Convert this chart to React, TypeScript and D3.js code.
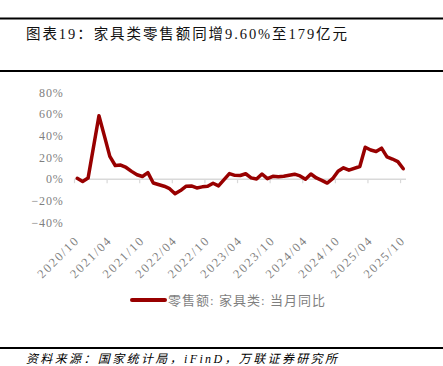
import React from "react";
import * as d3 from "d3";

const categories: string[] = [
  "2020/10","2020/11","2020/12",
  "2021/01","2021/02","2021/03","2021/04","2021/05","2021/06","2021/07","2021/08","2021/09","2021/10","2021/11","2021/12",
  "2022/01","2022/02","2022/03","2022/04","2022/05","2022/06","2022/07","2022/08","2022/09","2022/10","2022/11","2022/12",
  "2023/01","2023/02","2023/03","2023/04","2023/05","2023/06","2023/07","2023/08","2023/09","2023/10","2023/11","2023/12",
  "2024/01","2024/02","2024/03","2024/04","2024/05","2024/06","2024/07","2024/08","2024/09","2024/10","2024/11","2024/12",
  "2025/01","2025/02","2025/03","2025/04","2025/05","2025/06","2025/07","2025/08","2025/09","2025/10",
];

const values: (number | null)[] = [
  0.8, -2.2, 1.0,
  null, 58.5, 40.0, 21.0, 12.6, 13.0, 10.8, 7.2, 4.1, 2.5, 6.0, -3.5,
  null, -6.5, -8.8, -13.5, -10.5, -6.6, -6.2, -8.1, -7.1, -6.6, -3.8, -6.2,
  null, 5.2, 3.5, 3.4, 5.0, 1.2, 0.1, 4.8, 0.5, 2.6, 2.2, 2.7,
  null, 4.6, 3.0, -0.1, 4.8, 1.1, -1.1, -3.6, 0.4, 7.4, 10.5, 8.3,
  null, 11.7, 29.5, 26.9, 25.6, 28.6, 20.6, 18.6, 16.2, 9.6,
];

const xTickLabels: string[] = [
  "2020/10","2021/04","2021/10","2022/04","2022/10","2023/04","2023/10","2024/04","2024/10","2025/04","2025/10",
];
const yTicks: number[] = [80, 60, 40, 20, 0, -20, -40];

const title = "图表19：家具类零售额同增9.60%至179亿元";
const seriesName = "零售额: 家具类: 当月同比";
const source = "资料来源：国家统计局，iFinD，万联证券研究所";

const W = 443;
const H = 366;
const LINE_COLOR = "#980000";
const GRAY = "#7f7f7f";
const SERIF = "'Liberation Serif','Times New Roman','Noto Sans CJK SC',serif";

export default function App() {
  const x = d3.scaleBand<string>().domain(categories).range([74.5, 406]).paddingInner(0).paddingOuter(0);
  const y = d3.scaleLinear().domain([-40, 80]).range([222.5, 92.5]);
  const bw = x.bandwidth();
  const cx = (c: string) => (x(c) as number) + bw / 2;

  const pts = categories
    .map((c, i) => ({ c, v: values[i] }))
    .filter((d) => d.v !== null) as { c: string; v: number }[];
  const line = d3
    .line<{ c: string; v: number }>()
    .x((d) => cx(d.c))
    .y((d) => y(d.v));
  const path = line(pts) || "";
  const y0 = y(0);

  return (
    <svg
      width={W}
      height={H}
      viewBox={`0 0 ${W} ${H}`}
      style={{ position: "absolute", left: 0, top: 0, background: "#fff" }}
    >
      <rect x={0} y={0} width={W} height={H} fill="#fff" />
      {/* header rules */}
      <line x1={0} x2={W} y1={18.5} y2={18.5} stroke="#000" strokeWidth={2} />
      <line x1={0} x2={W} y1={71} y2={71} stroke="#000" strokeWidth={2} />
      <text
        x={26}
        y={38.5}
        fontSize={14.5}
        fontFamily={SERIF}
        fill="#111"
        textLength={321}
        lengthAdjust="spacing"
      >
        {title}
      </text>

      {/* y axis labels */}
      {yTicks.map((t) => (
        <text
          key={t}
          x={63.5}
          y={y(t)}
          dy="0.35em"
          textAnchor="end"
          fontSize={12}
          fontFamily={SERIF}
          fill={GRAY}
          letterSpacing={0.8}
        >
          {t < 0 ? `−${Math.abs(t)}%` : `${t}%`}
        </text>
      ))}

      {/* category axis at zero */}
      <line x1={74.5} x2={406} y1={y0} y2={y0} stroke="#d9d9d9" strokeWidth={1.5} />
      {xTickLabels.map((lab) => {
        const tx = x(lab) as number;
        return <line key={"t" + lab} x1={tx} x2={tx} y1={y0} y2={y0 + 4} stroke="#d9d9d9" strokeWidth={1.2} />;
      })}
      {xTickLabels.map((lab) => {
        const px = cx(lab) + 3;
        const py = 241;
        return (
          <text
            key={"l" + lab}
            x={px}
            y={py}
            transform={`rotate(-45 ${px} ${py})`}
            textAnchor="end"
            fontSize={12.5}
            fontFamily={SERIF}
            fill={GRAY}
            letterSpacing={1.8}
          >
            {lab}
          </text>
        );
      })}

      {/* series line */}
      <path d={path} fill="none" stroke={LINE_COLOR} strokeWidth={3.5} strokeLinejoin="round" strokeLinecap="round" />

      {/* legend */}
      <line x1={132} x2={165} y1={300} y2={300} stroke={LINE_COLOR} strokeWidth={4} strokeLinecap="round" />
      <text
        x={168}
        y={305}
        fontSize={13}
        fontFamily={SERIF}
        fill={GRAY}
        textLength={157}
        lengthAdjust="spacing"
      >
        {seriesName}
      </text>

      {/* footer */}
      <line x1={0} x2={W} y1={348} y2={348} stroke="#000" strokeWidth={2} />
      <text
        x={26}
        y={362.5}
        fontSize={12}
        fontStyle="italic"
        fontFamily={SERIF}
        fill="#000"
        textLength={311}
        lengthAdjust="spacing"
      >
        {source}
      </text>
    </svg>
  );
}
